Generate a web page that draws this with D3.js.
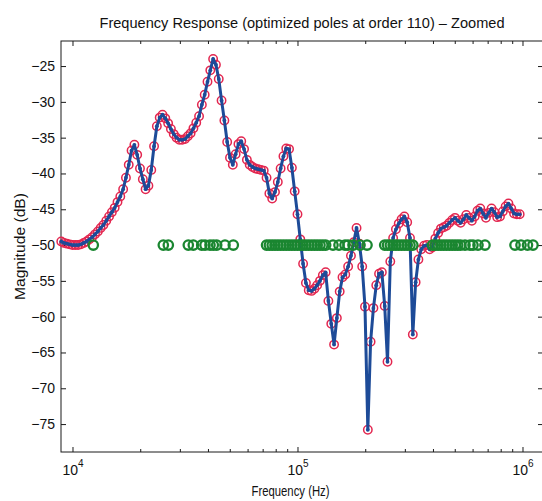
<!DOCTYPE html>
<html>
<head>
<meta charset="utf-8">
<script src="https://cdn.jsdelivr.net/npm/d3@7"></script>
<style>
  body { margin: 0; background: #fff; }
  text { font-family: "Liberation Sans", Arial, Helvetica, sans-serif; fill: #111; }
</style>
</head>
<body>
<script>
// measured frequency response (Hz, dB)
var freqHz = [8913, 9173, 9441, 9716,
  10000, 10290, 10590, 10900, 11220, 11550, 11890, 12230, 12590, 12960,
  13340, 13720, 14130, 14540, 14960, 15400, 15850, 16310, 16790, 17280,
  17780, 18300, 18840, 19390, 19950, 20540, 21130, 21750, 22390, 23040,
  23710, 24410, 25120, 25850, 26610, 27380, 28180, 29010, 29850, 30730,
  31620, 32550, 33500, 34470, 35480, 36520, 37580, 38680, 39810, 40970,
  42170, 43400, 44670, 45970, 47320, 48700, 50120, 51580, 53090, 54640,
  56230, 57880, 59570, 61310, 63100, 64940, 66830, 68790, 70790, 72860,
  74990, 77180, 79430, 81750, 84140, 86600, 89130, 91730, 94410, 97160,
  100000, 102900, 105900, 109000, 112200, 115500, 118900, 122300, 125900, 129600,
  133400, 137200, 141300, 145400, 149600, 154000, 158500, 163100, 167900, 172800,
  177800, 183000, 188400, 193900, 199500, 205400, 211300, 217500, 223900, 230400,
  237100, 244100, 251200, 258500, 266100, 273800, 281800, 290100, 298500, 307300,
  316200, 325500, 335000, 344700, 354800, 365200, 375800, 386800, 398100, 409700,
  421700, 434000, 446700, 459700, 473200, 487000, 501200, 515800, 530900, 546400,
  562300, 578800, 595700, 613100, 631000, 649400, 668300, 687900, 707900, 728600,
  749900, 771800, 794300, 817500, 841400, 866000, 891300, 917300, 944100, 971600];

var magDb = [-49.5, -49.7, -49.8, -49.9,
  -50.0, -50.0, -50.0, -49.9, -49.7, -49.5, -49.2, -48.9, -48.5, -48.1,
  -47.6, -47.2, -46.6, -46.0, -45.4, -44.8, -44.0, -43.2, -42.2, -40.6,
  -38.8, -36.8, -36.0, -37.4, -39.3, -40.8, -42.2, -41.7, -39.5, -36.2,
  -33.4, -32.2, -31.8, -32.3, -33.0, -33.8, -34.5, -35.0, -35.3, -35.3,
  -35.2, -34.8, -34.4, -33.7, -32.9, -32.0, -30.4, -29.0, -27.2, -25.6,
  -24.0, -24.8, -26.8, -29.8, -32.6, -35.6, -37.8, -38.8, -37.3, -35.9,
  -35.5, -36.6, -38.1, -38.8, -39.1, -39.3, -39.4, -39.5, -39.6, -40.6,
  -42.8, -43.5, -42.6, -41.2, -39.3, -37.6, -36.5, -36.6, -39.2, -42.5,
  -45.7, -49.2, -52.6, -55.3, -56.3, -56.4, -56.1, -55.6, -55.0, -54.2,
  -53.8, -57.8, -61.0, -63.9, -60.2, -56.5, -54.5, -54.1, -53.0, -51.5,
  -49.6, -47.6, -49.8, -53.0, -58.6, -75.8, -63.5, -58.8, -55.6, -54.0,
  -53.8, -58.5, -66.3, -52.3, -49.0, -47.8, -47.0, -46.4, -46.0, -46.8,
  -49.0, -62.5, -55.2, -52.0, -50.6, -50.1, -50.0, -50.6, -50.3, -49.1,
  -48.3, -47.7, -47.5, -47.3, -46.9, -46.5, -46.2, -46.6, -46.9, -46.4,
  -45.8, -46.2, -46.6, -46.0, -45.2, -44.9, -45.6, -46.2, -45.5, -44.9,
  -45.4, -46.1, -46.0, -45.3, -44.6, -44.2, -44.9, -45.6, -45.7, -45.7];

// optimized pole frequencies, drawn on the -50 dB line
var poleHz = [12370, 25330, 26660, 32710, 34430,
  37520, 38810, 40840, 42250, 43740, 47620, 51840,
  72860, 74990, 77180, 79430, 81750, 84140, 86600, 89130, 91730, 94410, 97160,
  100000, 102900, 105900, 109000, 112200, 115500, 118900, 122300, 125900, 129600, 133400,
  143800, 152900, 162600, 167700, 176500, 189600, 203700,
  244100, 251200, 258500, 266100, 273800, 281800, 290100, 298500, 307300, 316200, 325500,
  398100, 409700, 421700, 434000, 446700, 459700, 473200, 487000, 501200, 515800, 530900,
  555200, 584300, 602600, 634200, 681300,
  926100, 984800, 1052500, 1113300];
var poleLevel = -50;

var yTicks = [-75, -70, -65, -60, -55, -50, -45, -40, -35, -30, -25];
var xMajor = [1e4, 1e5, 1e6];
var xMinor = [2e4, 3e4, 4e4, 5e4, 6e4, 7e4, 8e4, 9e4,
              2e5, 3e5, 4e5, 5e5, 6e5, 7e5, 8e5, 9e5];

var margin = {top: 41, right: -1, bottom: 49, left: 61},
    width = 542 - margin.left - margin.right,
    height = 501 - margin.top - margin.bottom;

var x = d3.scaleLog().domain([8890, 1233500]).range([0, width]);
var y = d3.scaleLinear().domain([-78.9, -21.5]).range([height, 0]);

var svg = d3.select("body").append("svg")
    .attr("width", 542)
    .attr("height", 501)
    .style("display", "block");

svg.append("rect").attr("width", 542).attr("height", 501).attr("fill", "#fff");

var g = svg.append("g")
    .attr("transform", "translate(" + margin.left + "," + margin.top + ")");

// ticks (inward, on all four sides)
function styleAxis(sel) {
  sel.select(".domain").remove();
  sel.selectAll("line").attr("stroke", "#1a1a1a");
}

g.append("g").attr("transform", "translate(0," + height + ")")
  .call(d3.axisBottom(x).tickValues(xMinor).tickSize(-3).tickFormat(""))
  .call(styleAxis);
g.append("g")
  .call(d3.axisTop(x).tickValues(xMinor).tickSize(-3).tickFormat(""))
  .call(styleAxis);
g.append("g")
  .call(d3.axisTop(x).tickValues(xMajor).tickSize(-5).tickFormat(""))
  .call(styleAxis);

var xAxis = g.append("g").attr("transform", "translate(0," + height + ")")
  .call(d3.axisBottom(x).tickValues(xMajor).tickSize(-5))
  .call(styleAxis);
xAxis.selectAll("text").each(function(d) {
  var t = d3.select(this).text(null)
      .attr("y", 23).attr("dy", null)
      .attr("font-size", 14).attr("text-anchor", "middle");
  t.append("tspan").text("10");
  t.append("tspan").attr("dy", -8).attr("font-size", 10).text(Math.round(Math.log10(d)));
});

g.append("g")
  .call(d3.axisLeft(y).tickValues(yTicks).tickSize(-5).tickPadding(6))
  .call(styleAxis)
  .selectAll("text").attr("font-size", 14);
g.append("g").attr("transform", "translate(" + width + ",0)")
  .call(d3.axisRight(y).tickValues(yTicks).tickSize(-5).tickFormat(""))
  .call(styleAxis);

// frame
g.append("rect")
  .attr("width", width).attr("height", height)
  .attr("fill", "none").attr("stroke", "#1a1a1a").attr("stroke-width", 1);

var pts = freqHz.map(function(f, i) { return {f: f, m: magDb[i]}; });

// measured data: red open circles
g.selectAll(".meas").data(pts).enter().append("circle")
  .attr("class", "meas")
  .attr("cx", function(d) { return x(d.f); })
  .attr("cy", function(d) { return y(d.m); })
  .attr("r", 4.2)
  .attr("fill", "none")
  .attr("stroke", "#e3264f")
  .attr("stroke-width", 1.5);

// fitted response: blue line with dots
var line = d3.line()
  .x(function(d) { return x(d.f); })
  .y(function(d) { return y(d.m); });

g.append("path").datum(pts)
  .attr("d", line)
  .attr("fill", "none")
  .attr("stroke", "#1d4b98")
  .attr("stroke-width", 3)
  .attr("stroke-linejoin", "round");

g.selectAll(".fit").data(pts).enter().append("circle")
  .attr("class", "fit")
  .attr("cx", function(d) { return x(d.f); })
  .attr("cy", function(d) { return y(d.m); })
  .attr("r", 1.9)
  .attr("fill", "#1d4b98");

// poles: green open circles
g.selectAll(".pole").data(poleHz).enter().append("circle")
  .attr("class", "pole")
  .attr("cx", function(d) { return x(d); })
  .attr("cy", y(poleLevel))
  .attr("r", 4.7)
  .attr("fill", "none")
  .attr("stroke", "#1a8630")
  .attr("stroke-width", 2.3);

// labels
svg.append("text")
  .attr("x", 302).attr("y", 28)
  .attr("text-anchor", "middle")
  .attr("font-size", 15)
  .attr("textLength", 405).attr("lengthAdjust", "spacingAndGlyphs")
  .text("Frequency Response (optimized poles at order 110) \u2013 Zoomed");

svg.append("text")
  .attr("x", 290.5).attr("y", 496)
  .attr("text-anchor", "middle")
  .attr("font-size", 15)
  .attr("textLength", 78).attr("lengthAdjust", "spacingAndGlyphs")
  .text("Frequency (Hz)");

svg.append("text")
  .attr("transform", "translate(25,246.5) rotate(-90)")
  .attr("text-anchor", "middle")
  .attr("font-size", 15)
  .attr("textLength", 107).attr("lengthAdjust", "spacingAndGlyphs")
  .text("Magnitude (dB)");
</script>
</body>
